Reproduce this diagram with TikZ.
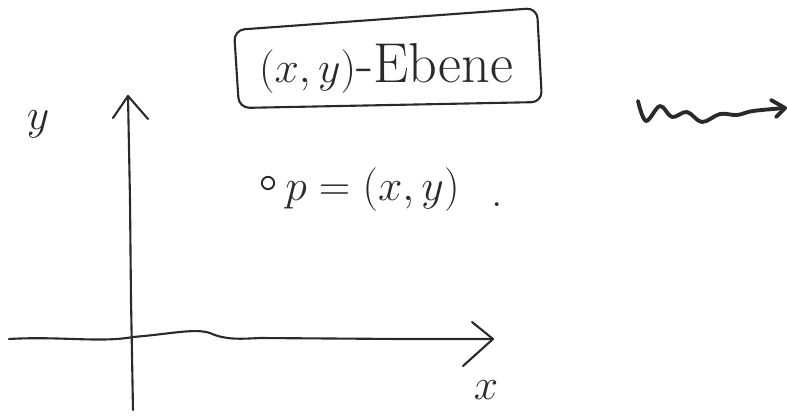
\documentclass[tikz,border=0pt]{standalone}
\usetikzlibrary{calc}
\definecolor{ink}{HTML}{2A2A2A}
\tikzset{
  pen/.style={draw=ink, line width=1.2pt, line cap=round, line join=round},
  thickpen/.style={pen, line width=2.2pt},
  lbl/.style={text=ink, inner sep=0pt},
}
\begin{document}
\begin{tikzpicture}[x=0.02cm,y=-0.02cm]
\useasboundingbox (0,0) rectangle (787,416);
% y-axis
\coordinate (ybot) at (133,410);
\coordinate (ytop) at (128,96);
\draw[pen] (ybot) -- (131,300) -- (130,200) -- (ytop);
\draw[pen] (113,118) -- (ytop) -- (148,119);
% x-axis
\coordinate (xleft) at (9,339);
\coordinate (xtip) at (493,339);
\draw[pen] (xleft) .. controls (60,336) and (100,343) .. (133,337)
  .. controls (170,334) and (195,328) .. (210,333)
  .. controls (225,340) and (240,339) .. (260,338)
  -- (400,339) -- (xtip);
\draw[pen] (472,322) -- (xtip) -- (463,366);
% axis labels
\node[lbl, font=\fontsize{32}{34}\selectfont] (ylab) at (38,124) {$y$};
\node[lbl, font=\fontsize{32}{34}\selectfont] (xlab) at (486,390) {$x$};
% box
\node[lbl, font=\fontsize{32}{34}\selectfont] (title) at (386,68) {$(x,y)$-Ebene};
\draw[pen, rounded corners=6pt] (234,30) -- (537,8) -- (542,102) -- (239,108) -- cycle;
% point
\node[pen, circle, inner sep=0pt, minimum size=7pt, line width=1.1pt] (pt) at (268,183) {};
\node[lbl, font=\fontsize{26}{28}\selectfont, anchor=west] (peq) at (285,190) {$p = (x,y)$};
\node[lbl, font=\fontsize{26}{28}\selectfont] (dot) at (497,205) {.};
% squiggly arrow
\coordinate (sqs) at (638,101);
\coordinate (sqe) at (785,108);
\draw[thickpen] plot[smooth, tension=0.6] coordinates {(sqs) (646,121) (660,106) (672,117) (687,112) (702,122) (720,114) (737,115) (753,111) (sqe)};
\draw[thickpen] (771,100) -- (sqe) -- (776,117);
\end{tikzpicture}
\end{document}
